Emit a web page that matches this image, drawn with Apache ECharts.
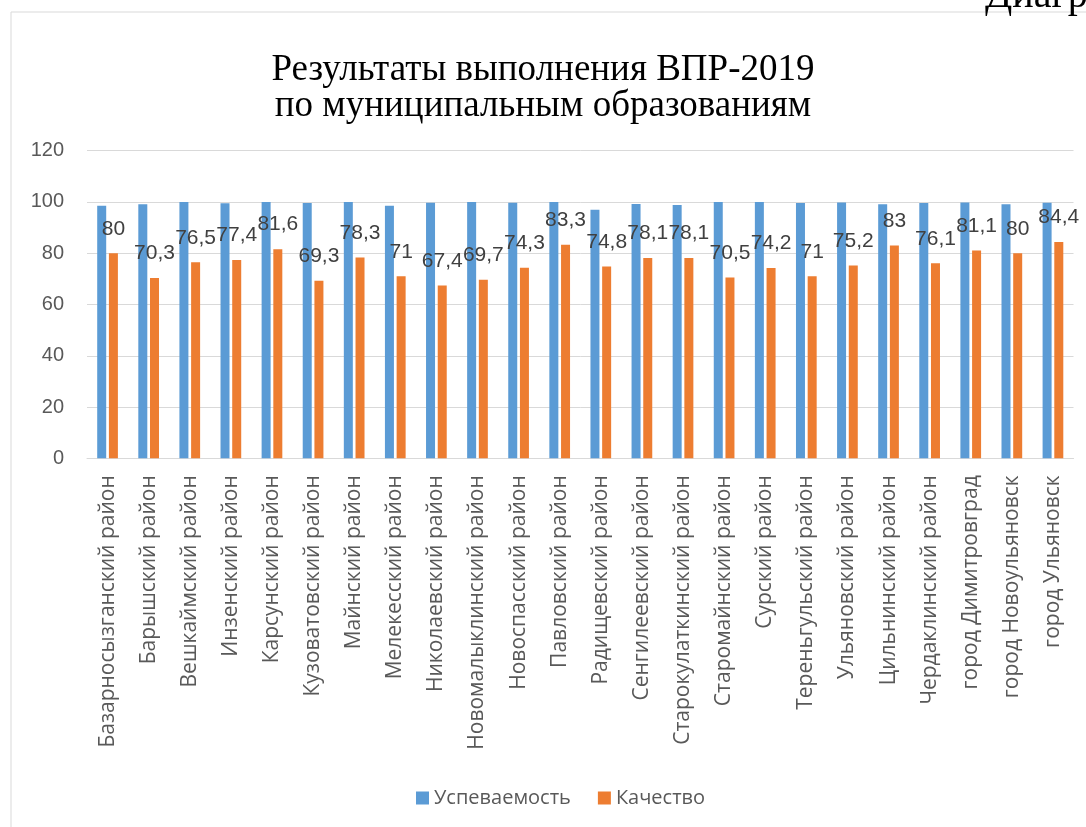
<!DOCTYPE html>
<html><head><meta charset="utf-8">
<script src="https://cdn.jsdelivr.net/npm/echarts@6/dist/echarts.min.js"></script>
<style>html,body{margin:0;padding:0;background:#fff;}#c{width:1086px;height:827px;}</style>
</head><body><div id="c"></div>
<script>
const categories = ["Базарносызганский район","Барышский район","Вешкаймский район","Инзенский район","Карсунский район","Кузоватовский район","Майнский район","Мелекесский район","Николаевский район","Новомалыклинский район","Новоспасский район","Павловский район","Радищевский район","Сенгилеевский район","Старокулаткинский район","Старомайнский район","Сурский район","Тереньгульский район","Ульяновский район","Цильнинский район","Чердаклинский район","город Димитровград","город Новоульяновск","город Ульяновск"];
const uspevaemost = [98.5,99.1,100,99.5,100,99.6,100,98.5,99.7,100,99.7,100,97,99.2,98.8,100,100,99.6,99.8,99.1,99.6,99.8,99.1,99.7];
const kachestvo = [80,70.3,76.5,77.4,81.6,69.3,78.3,71,67.4,69.7,74.3,83.3,74.8,78.1,78.1,70.5,74.2,71,75.2,83,76.1,81.1,80,84.4];
const seriesNames = ["Успеваемость","Качество"];
const titleLines = ["Результаты выполнения ВПР-2019","по муниципальным образованиям"];

const chart = echarts.init(document.getElementById('c'), null, {renderer:'canvas'});
const sans = "'Liberation Sans', Arial, sans-serif";
const wide = "'Open Sans', 'Liberation Sans', sans-serif";
chart.setOption({
  animation:false,
  backgroundColor:'#fff',
  title:{text:titleLines.join('\n'), left:'center', top:47,
    textStyle:{fontFamily:"'Liberation Serif', 'Times New Roman', serif", fontSize:37, fontWeight:'normal', color:'#000', lineHeight:36}},
  graphic:[
    {type:'rect', shape:{x:11,y:12,width:1200,height:1000}, style:{fill:'none', stroke:'#D9D9D9', lineWidth:1}, silent:true},
    {type:'text', style:{x:985,y:16,text:'Диаграмма',font:"40px 'Liberation Serif', serif",fill:'#000',verticalAlign:'bottom'}, silent:true}
  ],
  legend:{bottom:14, left:411, itemWidth:13, itemHeight:13, itemGap:27, icon:'rect',
    textStyle:{fontFamily:wide, fontSize:20, color:'#595959'}, data:seriesNames},
  grid:{left:87, right:12.5, top:150.7, bottom:368.7, containLabel:false},
  xAxis:{type:'category', data:categories,
    axisLine:{lineStyle:{color:'#D9D9D9'}}, axisTick:{show:false},
    axisLabel:{rotate:90, margin:17, interval:0, fontFamily:wide, fontSize:21, color:'#595959'}},
  yAxis:{type:'value', min:0, max:120, interval:20,
    axisLine:{show:false}, axisTick:{show:false},
    splitLine:{lineStyle:{color:'#D9D9D9'}},
    axisLabel:{margin:23, fontFamily:sans, fontSize:20, color:'#595959'}},
  series:[
    {name:seriesNames[0], type:'bar', data:uspevaemost, barWidth:9, barGap:'30%', itemStyle:{color:'#5B9BD5'}},
    {name:seriesNames[1], type:'bar', data:kachestvo, barWidth:9, itemStyle:{color:'#ED7D31'},
      label:{show:true, position:'top', distance:14, fontFamily:sans, fontSize:21, color:'#404040',
        formatter:p=>String(p.value).replace('.',',')}}
  ]
});
</script></body></html>
